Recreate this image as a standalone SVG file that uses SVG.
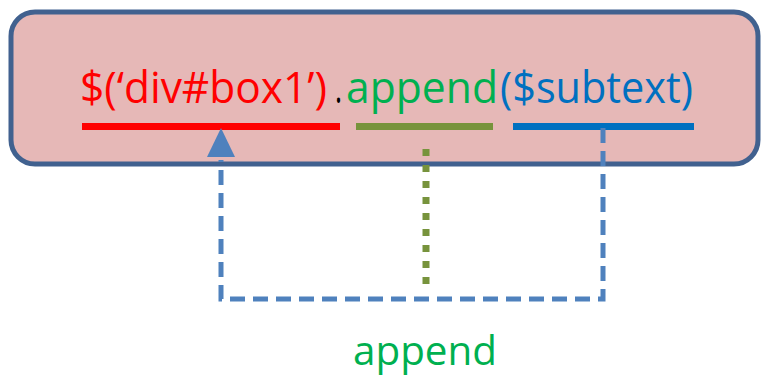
<svg xmlns="http://www.w3.org/2000/svg" width="763" height="376" viewBox="0 0 763 376">
<defs>
<style>
.t{font-family:"Open Sans","Noto Sans","Liberation Sans",sans-serif;font-size:43px}
.conn{fill:none;stroke:#4f81bd;stroke-width:5;stroke-dasharray:15 8}
</style>
</defs>
<rect width="763" height="376" fill="#ffffff"/>
<g id="box">
<rect x="11" y="12" width="747" height="152" rx="24" ry="24" fill="#e6b8b7" stroke="#41618f" stroke-width="5"/>
<text class="t" y="103"><tspan x="80" fill="#ff0000" textLength="247" lengthAdjust="spacingAndGlyphs">$(‘div#box1’)</tspan><tspan x="335" fill="#000000" textLength="7" lengthAdjust="spacingAndGlyphs">.</tspan><tspan x="346" fill="#00b050" textLength="152" lengthAdjust="spacingAndGlyphs">append</tspan><tspan x="500" fill="#0070c0" textLength="193" lengthAdjust="spacingAndGlyphs">($subtext)</tspan></text>
<rect x="82" y="123" width="258" height="7" fill="#ff0000"/>
<rect x="356" y="123" width="137" height="7" fill="#77933c"/>
<rect x="513" y="123" width="181" height="7" fill="#0070c0"/>
</g>
<g id="connectors">
<polyline class="conn" points="603,128 603,299 221,299 221,160"/>
<polygon points="221,128 207,157 235,157" fill="#4f81bd"/>
<line x1="426" y1="149" x2="426" y2="284" stroke="#77933c" stroke-width="7" stroke-dasharray="7 9"/>
</g>
<g id="label">
<text class="t" x="353" y="365" fill="#00b050" style="font-size:40px" textLength="144" lengthAdjust="spacingAndGlyphs">append</text>
</g>
</svg>
